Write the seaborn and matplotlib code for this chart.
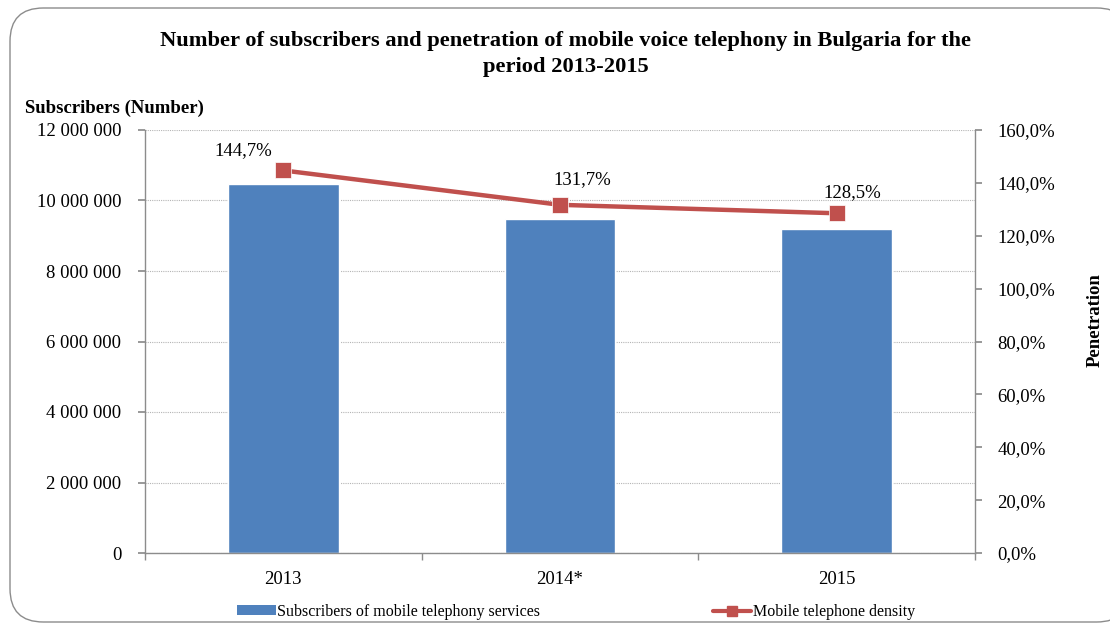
import matplotlib
matplotlib.use("Agg")
import matplotlib.pyplot as plt
import seaborn as sns
import numpy as np
import pandas as pd
from matplotlib.ticker import FuncFormatter, MultipleLocator
from matplotlib.patches import FancyBboxPatch, Patch
from matplotlib.lines import Line2D

# Data
years = ["2013", "2014*", "2015"]
subscribers = [10480000, 9480000, 9190000]
penetration = [144.7, 131.7, 128.5]

sns.set_theme(style="white")
plt.rcParams["font.family"] = ["Liberation Serif", "DejaVu Serif"]
plt.rcParams["text.color"] = "black"
plt.rcParams["xtick.color"] = "black"
plt.rcParams["ytick.color"] = "black"

BLUE = "#4F81BD"
RED = "#C0504D"
TICK_FS = 13.5

fig = plt.figure(figsize=(11.1, 6.3), dpi=100)

# rounded chart frame
frame = FancyBboxPatch((10 / 1110, 8 / 630), 1120 / 1110, 614 / 630,
                       boxstyle="round,pad=0,rounding_size=0.03",
                       transform=fig.transFigure, facecolor="white",
                       edgecolor="#8c8c8c", linewidth=1.0, zorder=-10,
                       mutation_aspect=1110 / 630)
fig.patches.append(frame)

ax = fig.add_axes([145 / 1110, 77 / 630, 830 / 1110, 423 / 630])
ax.set_facecolor("none")

df = pd.DataFrame({"year": years, "subscribers": subscribers})
sns.barplot(data=df, x="year", y="subscribers", color=BLUE, width=0.4,
            saturation=1, ax=ax, zorder=2)

ax.set_ylim(0, 12000000)
ax.set_xlim(-0.5, 2.5)
ax.yaxis.set_major_locator(MultipleLocator(2000000))
ax.yaxis.set_major_formatter(FuncFormatter(lambda v, p: f"{int(v):,}".replace(",", " ")))
ax.grid(axis="y", color="#b5b5b5", linestyle=(0, (1, 1)), linewidth=0.8, zorder=0)
ax.set_axisbelow(True)
ax.set_xlabel("")
ax.set_ylabel("")

for s in ["top", "right"]:
    ax.spines[s].set_visible(False)
for s in ["left", "bottom"]:
    ax.spines[s].set_color("#8c8c8c")
    ax.spines[s].set_linewidth(1.0)

ax.tick_params(axis="y", which="major", left=True, length=5, color="#8c8c8c",
               labelsize=TICK_FS, pad=12, labelcolor="black")
ax.tick_params(axis="x", which="major", bottom=False, labelsize=TICK_FS, pad=7,
               labelcolor="black")
# category boundary ticks on the x axis
ax.set_xticks([-0.5, 0.5, 1.5, 2.5], minor=True)
ax.tick_params(axis="x", which="minor", bottom=True, length=5, color="#8c8c8c")

ax2 = ax.twinx()
sns.lineplot(x=np.arange(len(years)), y=penetration, ax=ax2, color=RED,
             linewidth=3.2, marker="s", markersize=11, markeredgecolor="white",
             markeredgewidth=0.5, zorder=3)
ax2.set_ylim(0, 160)
ax2.set_xlim(-0.5, 2.5)
ax2.yaxis.set_major_locator(MultipleLocator(20))
ax2.yaxis.set_major_formatter(FuncFormatter(lambda v, p: f"{v:.1f}%".replace(".", ",")))
ax2.grid(False)
for s in ["top", "left", "bottom"]:
    ax2.spines[s].set_visible(False)
ax2.spines["right"].set_color("#8c8c8c")
ax2.spines["right"].set_linewidth(1.0)
ax2.tick_params(axis="y", right=True, length=5, color="#8c8c8c", labelsize=TICK_FS,
                pad=11, labelcolor="black")
ax2.set_ylabel("")

# value labels for the penetration line (offsets in points)
label_offsets = [(-29, 8), (16, 12), (11.5, 9)]
for i, (v, off) in enumerate(zip(penetration, label_offsets)):
    ax2.annotate(f"{v:.1f}%".replace(".", ","), (i, v), xytext=off,
                 textcoords="offset points", ha="center", va="bottom",
                 fontsize=TICK_FS, color="black")

fig.text(566 / 1110, 1 - 54 / 630, "Number of subscribers and penetration of mobile voice telephony in Bulgaria for the\nperiod 2013-2015",
         ha="center", va="center", fontsize=16.2, fontweight="bold", linespacing=1.4)
fig.text(25 / 1110, 1 - 108 / 630, "Subscribers (Number)", ha="left", va="center",
         fontsize=13.5, fontweight="bold")
fig.text(1095 / 1110, 1 - 320 / 630, "Penetration", rotation=90, ha="center",
         va="center", fontsize=13.5, fontweight="bold")

handles = [Patch(facecolor=BLUE, edgecolor="none"),
           Line2D([], [], color=RED, linewidth=3, marker="s", markersize=7)]
fig.legend(handles, ["Subscribers of mobile telephony services", "Mobile telephone density"],
           loc="center", bbox_to_anchor=(0.519, 1 - 612 / 630), ncol=2, frameon=False,
           fontsize=11.5, handlelength=2.4, handleheight=0.6, handletextpad=0.1,
           columnspacing=10.8)

fig.savefig("out.png", dpi=100)
